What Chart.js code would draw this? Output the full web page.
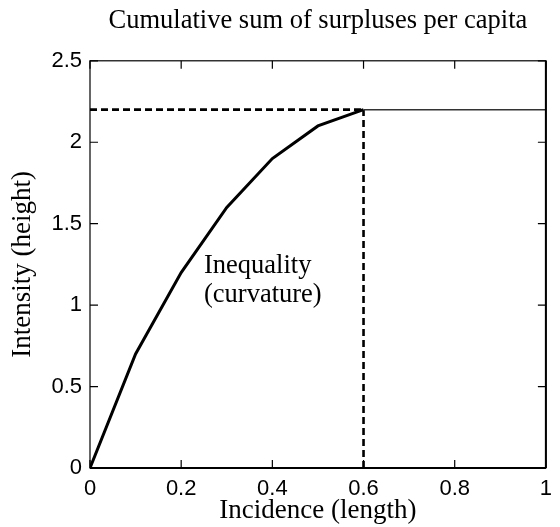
<!DOCTYPE html>
<html>
<head>
<meta charset="utf-8">
<script src="https://cdn.jsdelivr.net/npm/chart.js@4"></script>
<style>
  html, body { margin: 0; padding: 0; background: #fff; }
</style>
</head>
<body>
<canvas id="chart" width="560" height="527"></canvas>
<script>
// Werte
const incidence = [0, 0.1, 0.2, 0.3, 0.4, 0.5, 0.6];
const intensity = [0, 0.7, 1.2, 1.6, 1.9, 2.1, 2.2];
const plateauX = [0.6, 1];
const plateauY = [2.2, 2.2];
const dashHX = [0, 0.6];
const dashHY = [2.2, 2.2];
const dashVX = [0.6, 0.6];
const dashVY = [0, 2.2];
const xTicks = [0, 0.2, 0.4, 0.6, 0.8, 1];
const yTicks = [0, 0.5, 1, 1.5, 2, 2.5];
const noteLines = ['Inequality', '(curvature)'];
const noteX = 0.25;
const noteY = [1.2, 1.02];

const toPoints = (xs, ys) => xs.map((x, i) => ({ x: x, y: ys[i] }));
const serif = '"Liberation Serif", "Times New Roman", serif';
const sans = '"Liberation Sans", Arial, Helvetica, sans-serif';

// Rahmen + Ticks nach innen (wie MATLAB)
const boxPlugin = {
    id: 'box',
    afterDraw: (chart) => {
        const { ctx, chartArea: a, scales } = chart;
        const len = 8;
        ctx.save();
        ctx.strokeStyle = '#000';
        ctx.lineWidth = 1.2;
        ctx.beginPath();
        xTicks.forEach(v => {
            const px = scales.x.getPixelForValue(v);
            ctx.moveTo(px, a.bottom); ctx.lineTo(px, a.bottom - len);
            ctx.moveTo(px, a.top); ctx.lineTo(px, a.top + len);
        });
        yTicks.forEach(v => {
            const py = scales.y.getPixelForValue(v);
            ctx.moveTo(a.left, py); ctx.lineTo(a.left + len, py);
            ctx.moveTo(a.right, py); ctx.lineTo(a.right - len, py);
        });
        ctx.stroke();
        ctx.strokeRect(a.left, a.top, a.right - a.left, a.bottom - a.top);
        ctx.lineWidth = 2;
        ctx.beginPath();
        ctx.moveTo(a.left, a.bottom); ctx.lineTo(a.right, a.bottom);
        ctx.moveTo(a.right, a.bottom); ctx.lineTo(a.right, a.top);
        ctx.stroke();

        // Beschriftung im Diagramm
        ctx.fillStyle = '#000';
        ctx.font = '26.5px ' + serif;
        ctx.textAlign = 'left';
        ctx.textBaseline = 'alphabetic';
        noteLines.forEach((t, i) => {
            ctx.fillText(t, scales.x.getPixelForValue(noteX), scales.y.getPixelForValue(noteY[i]));
        });
        ctx.restore();
    }
};

const lineSet = (data, width, dash, color) => ({
    data: data,
    borderColor: color || '#000',
    borderWidth: width,
    borderDash: dash || [],
    pointRadius: 0,
    fill: false,
    tension: 0
});

new Chart(document.getElementById('chart'), {
    type: 'line',
    data: {
        datasets: [
            lineSet(toPoints(plateauX, plateauY), 1.5, null, '#333'),
            lineSet(toPoints(dashHX, dashHY), 2.6, [7, 4]),
            lineSet(toPoints(dashVX, dashVY), 2.6, [7, 4]),
            lineSet(toPoints(incidence, intensity), 3)
        ]
    },
    options: {
        responsive: false,
        animation: false,
        layout: { padding: { top: 0, left: 0, right: 8, bottom: 0 } },
        plugins: {
            legend: { display: false },
            tooltip: { enabled: false },
            title: {
                display: true,
                text: 'Cumulative sum of surpluses per capita',
                fullSize: false,
                color: '#000',
                font: { family: serif, size: 26.5, weight: 'normal', lineHeight: 1.2 },
                padding: { top: 5, bottom: 24 }
            }
        },
        scales: {
            x: {
                type: 'linear',
                min: 0,
                max: 1,
                grid: { display: false, drawTicks: false },
                border: { display: false },
                afterBuildTicks: s => { s.ticks = xTicks.map(v => ({ value: v })); },
                afterFit: s => { s.height = 59; },
                ticks: {
                    color: '#000',
                    padding: 8,
                    maxRotation: 0,
                    font: { family: sans, size: 22 },
                    callback: v => String(v)
                },
                title: {
                    display: true,
                    text: 'Incidence (length)',
                    color: '#000',
                    font: { family: serif, size: 27, lineHeight: 1.2 },
                    padding: { top: 0, bottom: 0 }
                }
            },
            y: {
                type: 'linear',
                min: 0,
                max: 2.5,
                grid: { display: false, drawTicks: false },
                border: { display: false },
                afterBuildTicks: s => { s.ticks = yTicks.map(v => ({ value: v })); },
                afterFit: s => { s.width = 90; },
                ticks: {
                    color: '#000',
                    padding: 8,
                    font: { family: sans, size: 22 },
                    callback: v => String(v)
                },
                title: {
                    display: true,
                    text: 'Intensity (height)',
                    color: '#000',
                    font: { family: serif, size: 27, lineHeight: 1.2 },
                    padding: { top: 7, bottom: 7 }
                }
            }
        }
    },
    plugins: [boxPlugin]
});
</script>
</body>
</html>
